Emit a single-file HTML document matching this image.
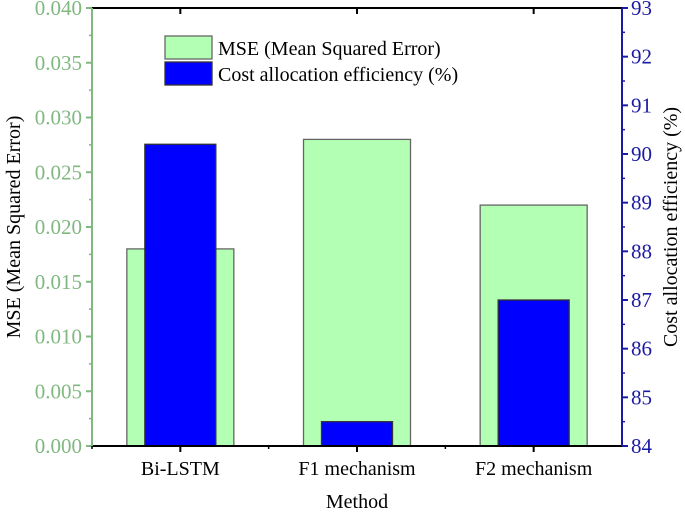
<!DOCTYPE html>
<html><head><meta charset="utf-8"><style>
body{margin:0;background:#fff}
text{font-family:"Liberation Serif",serif}
</style></head><body>
<svg id="c" width="685" height="513" xmlns="http://www.w3.org/2000/svg"></svg>
<script>
const categories=["Bi-LSTM","F1 mechanism","F2 mechanism"];
const mseValues=[0.018,0.028,0.022];
const effValues=[90.2,84.5,87.0];
const leftTicks=["0.000","0.005","0.010","0.015","0.020","0.025","0.030","0.035","0.040"];
const rightTicks=[84,85,86,87,88,89,90,91,92,93];
const L=92,R=622,T=8,B=446;
const ns="http://www.w3.org/2000/svg";
const svg=document.getElementById('c');
function el(t,a,p){const e=document.createElementNS(ns,t);for(const k in a)e.setAttribute(k,a[k]);(p||svg).appendChild(e);return e;}
const yL=v=>B-(v-0)/0.04*(B-T);
const yR=v=>B-(v-84)/9*(B-T);
const bw=(R-L)/categories.length;
const xC=i=>L+bw*(i+0.5);
categories.forEach((c,i)=>{
 const g=el('rect',{x:xC(i)-53.5,y:yL(mseValues[i]),width:107,height:B-yL(mseValues[i]),fill:'#b3ffb3',stroke:'#666','stroke-width':1.3});
 
 
});
categories.forEach((c,i)=>{
 const b=el('rect',{x:xC(i)-35.5,y:yR(effValues[i]),width:71,height:B-yR(effValues[i]),fill:'#0000ff',stroke:'#333','stroke-width':1.3});
 
 
});
el('line',{x1:L,y1:T,x2:R,y2:T,stroke:'#000','stroke-width':2});
el('line',{x1:L,y1:B,x2:R,y2:B,stroke:'#000','stroke-width':2});
const la=el('line',{x1:L,y1:T,x2:L,y2:B,stroke:'#80b880','stroke-width':2});

const ra=el('line',{x1:R,y1:T,x2:R,y2:B,stroke:'#1a1aa6','stroke-width':2});

leftTicks.forEach((t,i)=>{
 const y=yL(+t);
 el('line',{x1:L-6,y1:y,x2:L,y2:y,stroke:'#80b880','stroke-width':2});
 if(i<leftTicks.length-1){const ym=yL(+t+0.0025);el('line',{x1:L-3,y1:ym,x2:L,y2:ym,stroke:'#80b880','stroke-width':1.5});}
 const tx=el('text',{x:L-10,y:y+7,'text-anchor':'end','font-size':21,fill:'#80b880'});tx.textContent=t;
 
});
rightTicks.forEach((t,i)=>{
 const y=yR(t);
 el('line',{x1:R,y1:y,x2:R+6,y2:y,stroke:'#1a1aa6','stroke-width':2});
 if(i<rightTicks.length-1){const ym=yR(t+0.5);el('line',{x1:R,y1:ym,x2:R+3,y2:ym,stroke:'#1a1aa6','stroke-width':1.5});}
 const tx=el('text',{x:R+9,y:y+7,'font-size':21,fill:'#1a1aa6'});tx.textContent=t;
 
});
categories.forEach((c,i)=>{
 el('line',{x1:xC(i),y1:B,x2:xC(i),y2:B+6,stroke:'#000','stroke-width':2});
 el('line',{x1:xC(i),y1:T,x2:xC(i),y2:T+6,stroke:'#000','stroke-width':2});
 el('line',{x1:L+bw*i,y1:B,x2:L+bw*i,y2:B+3,stroke:'#000','stroke-width':1.5});
 const tx=el('text',{x:xC(i),y:B+29,'text-anchor':'middle','font-size':20,fill:'#000'});tx.textContent=c;
 
});
const xt=el('text',{x:357,y:508,'text-anchor':'middle','font-size':20});xt.textContent='Method';

const yt=el('text',{x:0,y:0,'text-anchor':'middle','font-size':20,transform:'translate(20,227) rotate(-90)'});yt.textContent='MSE (Mean Squared Error)';

const yt2=el('text',{x:0,y:0,'text-anchor':'middle','font-size':20,transform:'translate(677,227) rotate(-90)'});yt2.textContent='Cost allocation efficiency (%)';

const l1=el('rect',{x:165,y:36,width:47,height:23,fill:'#b3ffb3',stroke:'#666','stroke-width':1.3});

const l2=el('rect',{x:165,y:62,width:47,height:23,fill:'#0000ff',stroke:'#333','stroke-width':1.3});

const t1=el('text',{x:218,y:55,'font-size':20});t1.textContent='MSE (Mean Squared Error)';

const t2=el('text',{x:218,y:81,'font-size':20});t2.textContent='Cost allocation efficiency (%)';

</script>
</body></html>
